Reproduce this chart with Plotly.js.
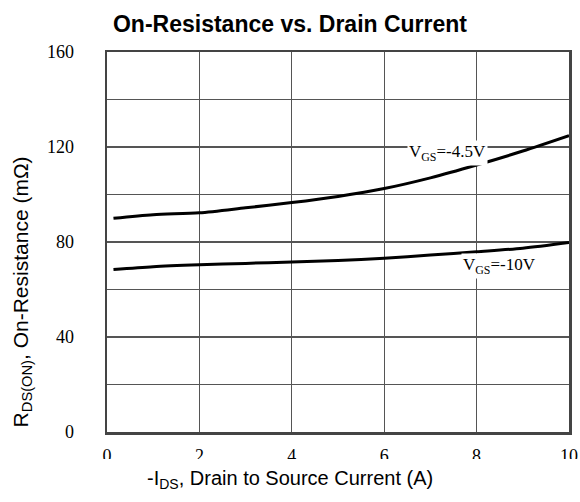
<!DOCTYPE html>
<html><head><meta charset="utf-8">
<script src="https://cdn.plot.ly/plotly-3.0.1.min.js"></script>
<style>html,body{margin:0;padding:0;background:#fff}</style>
</head><body><div id="chart" style="width:580px;height:502px"></div>
<script>
var currentA = [0.14, 1, 2, 3, 4, 5, 6, 7, 8, 9, 10];
var rdsVgs45 = [90.0, 91.5, 92.3, 94.4, 96.6, 99.2, 102.5, 107.0, 112.4, 118.3, 124.8];
var rdsVgs10 = [68.4, 69.6, 70.4, 71.0, 71.6, 72.2, 73.2, 74.5, 75.9, 77.4, 79.8];
var xTicks = [0, 2, 4, 6, 8, 10];
var yTicks = [0, 20, 40, 60, 80, 100, 120, 140, 160];
var yTickText = ['0', '', '40', '', '80', '', '120', '', '160'];
var labels = ["V<sub>GS</sub>=-4.5V", "V<sub>GS</sub>=-10V"];
var xTitle = '-I<sub>DS</sub>, Drain to Source Current (A)';
var yTitle = 'R<sub>DS(ON)</sub>, On-Resistance (mΩ)';

var traces = [
  {x: currentA, y: rdsVgs45, mode: 'lines', line: {color: '#000', width: 3, shape: 'spline', smoothing: 0.8}, hoverinfo: 'skip'},
  {x: currentA, y: rdsVgs10, mode: 'lines', line: {color: '#000', width: 3, shape: 'spline', smoothing: 0.8}, hoverinfo: 'skip'}
];
var axisCommon = {
  showline: true, mirror: true, linecolor: '#444', linewidth: 2.5,
  showgrid: true, gridcolor: '#555', gridwidth: 1.2, zeroline: false,
  ticks: '', tickfont: {family: 'Liberation Serif, Times New Roman, serif', size: 18, color: '#000'}
};
var sans = 'Liberation Sans, Arial, sans-serif';
var serif = 'Liberation Serif, Times New Roman, serif';
var layout = {
  width: 580, height: 502,
  margin: {l: 107, r: 11, t: 52, b: 70},
  paper_bgcolor: '#fff', plot_bgcolor: '#fff',
  showlegend: false,
  title: {text: '<b>On-Resistance vs. Drain Current</b>', x: 0.5, xref: 'container', y: 0.952, yref: 'container', yanchor: 'middle',
          font: {family: sans, size: 23, color: '#000'}},
  xaxis: Object.assign({}, axisCommon, {
    range: [0, 10], tickvals: xTicks, ticktext: xTicks.map(String),
    ticklabelstandoff: 6
  }),
  yaxis: Object.assign({}, axisCommon, {
    range: [0, 160], tickvals: yTicks, ticktext: yTickText,
    ticklabelstandoff: 27
  }),
  shapes: [
    {type: 'rect', layer: 'above', xref: 'paper', yref: 'paper', x0: -0.15, x1: 1.05, y0: -0.0708, y1: -0.094,
     fillcolor: '#fff', line: {width: 0}}
  ],
  annotations: [
    {x: 7.36, y: 117.3, xref: 'x', yref: 'y', text: labels[0], showarrow: false, bgcolor: '#fff',
     font: {family: serif, size: 17, color: '#000'}},
    {x: 8.5, y: 70.0, xref: 'x', yref: 'y', text: labels[1], showarrow: false, bgcolor: '#fff',
     font: {family: serif, size: 17, color: '#000'}},
    {x: 0.396, y: -0.126, xref: 'paper', yref: 'paper', xanchor: 'center', yanchor: 'middle', text: xTitle, showarrow: false,
     font: {family: sans, size: 20, color: '#000'}},
    {x: -0.184, y: 0.37, xref: 'paper', yref: 'paper', xanchor: 'center', yanchor: 'middle', text: yTitle, textangle: -90, showarrow: false,
     font: {family: sans, size: 21, color: '#000'}}
  ]
};
Plotly.newPlot('chart', traces, layout, {displayModeBar: false, staticPlot: true});
</script>
</body></html>
